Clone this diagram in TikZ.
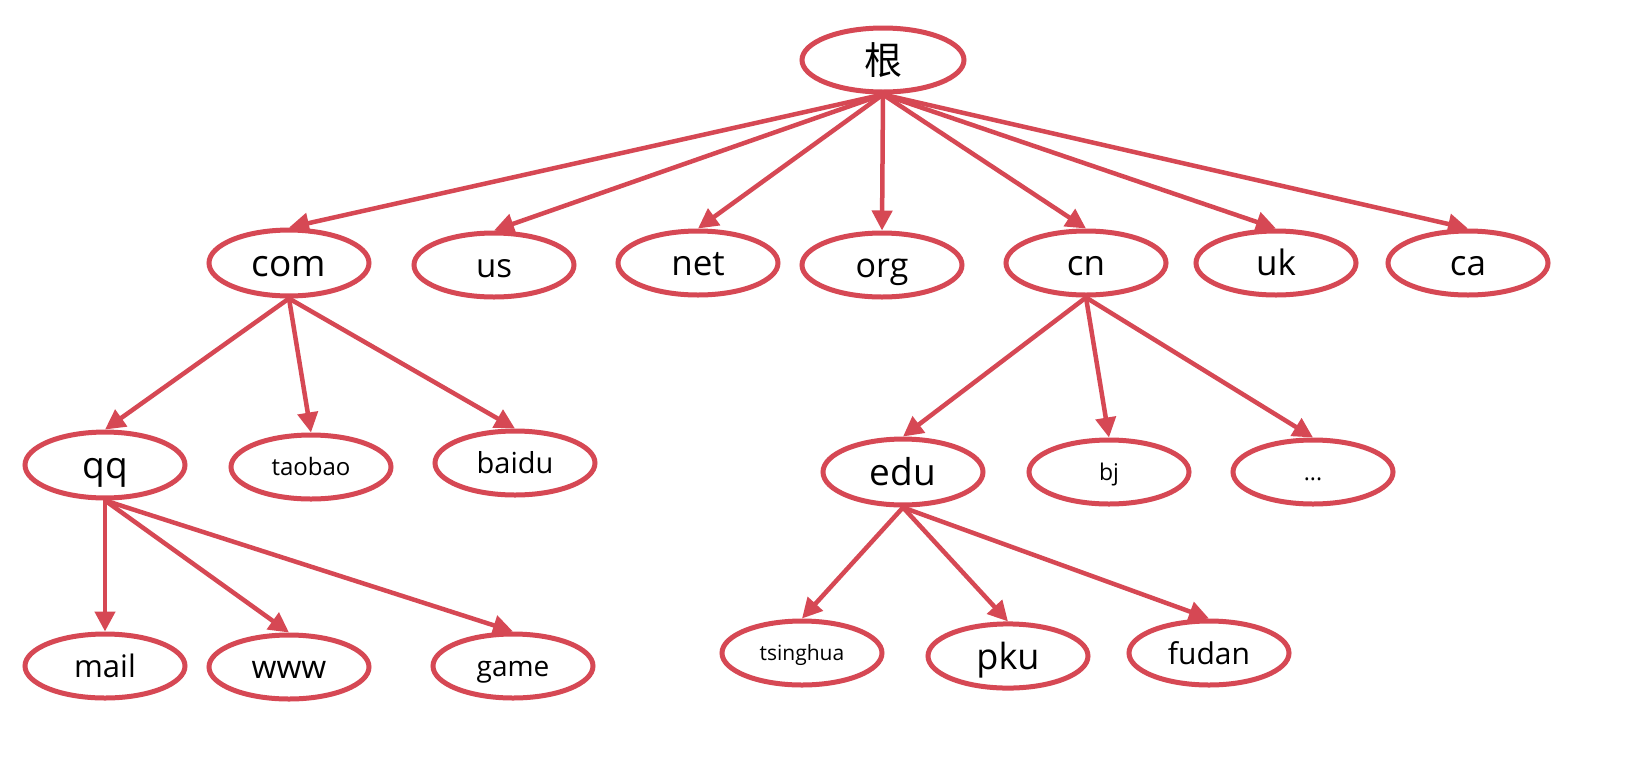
\documentclass[tikz,border=0pt]{standalone}
\usepackage{fontspec}
\setmainfont{Open Sans}
\newfontfamily\cjk{Noto Sans CJK SC}
\usetikzlibrary{shapes.geometric,arrows.meta}
\definecolor{dnsred}{RGB}{214,72,84}
\newcommand{\fsz}[1]{\fontsize{#1}{#1}\selectfont}
\newcommand{\lb}[2]{\fsz{#1}\rule[-0.26em]{0pt}{1.26em}#2}
\begin{document}
\begin{tikzpicture}[x=1pt,y=-1pt,
  nd/.style={ellipse,draw=dnsred,line width=5pt,minimum width=160pt,minimum height=64pt,inner sep=0pt},
  link/.style={draw=dnsred,line width=4.5pt,-{Triangle[length=20pt,width=20pt]}}]
\useasboundingbox[fill=white] (0,0) rectangle (1639,756);
\node[nd,minimum width=162pt,minimum height=64pt,font=\cjk\fsz{38}] (root) at (883,60) {根};
\node[nd] (com) at (289,263) {\lb{37}{com}};
\node[nd] (us) at (494,265) {\lb{33}{us}};
\node[nd] (net) at (698,263) {\lb{35}{net}};
\node[nd] (org) at (882,265) {\lb{34}{org}};
\node[nd] (cn) at (1086,263) {\lb{35}{cn}};
\node[nd] (uk) at (1276,263) {\lb{35}{uk}};
\node[nd] (ca) at (1468,263) {\lb{35}{ca}};
\node[nd] (qq) at (105,465) {\lb{37}{qq}};
\node[nd] (taobao) at (311,467) {\lb{24}{taobao}};
\node[nd] (baidu) at (515,463) {\lb{29}{baidu}};
\node[nd] (edu) at (903,472) {\lb{37}{edu}};
\node[nd] (bj) at (1109,472) {\lb{23}{bj}};
\node[nd] (dots) at (1313,472) {\lb{23}{...}};
\node[nd] (mail) at (105,666) {\lb{31}{mail}};
\node[nd] (www) at (289,667) {\lb{32}{www}};
\node[nd] (game) at (513,666) {\lb{28}{game}};
\node[nd] (tsinghua) at (802,653) {\lb{21}{tsinghua}};
\node[nd] (pku) at (1008,656) {\lb{36}{pku}};
\node[nd] (fudan) at (1209,653) {\lb{30}{fudan}};
\foreach \c in {com,us,net,org,cn,uk,ca} \draw[link] (root.south) -- (\c.north);
\foreach \c in {qq,taobao,baidu} \draw[link] (com.south) -- (\c.north);
\foreach \c in {edu,bj,dots} \draw[link] (cn.south) -- (\c.north);
\foreach \c in {mail,www,game} \draw[link] (qq.south) -- (\c.north);
\foreach \c in {tsinghua,pku,fudan} \draw[link] (edu.south) -- (\c.north);
\end{tikzpicture}
\end{document}
